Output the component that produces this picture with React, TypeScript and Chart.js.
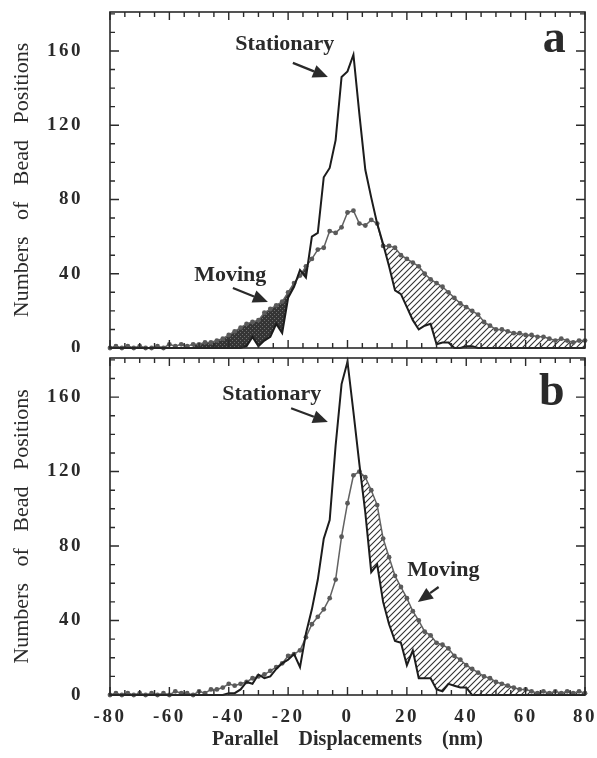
import React, { useEffect, useRef } from 'react';
import { Chart, registerables } from 'chart.js';

Chart.register(...registerables);

// ---- data ----
const X_NM = [
  -80, -78, -76, -74, -72, -70, -68, -66, -64, -62, -60, -58, -56, -54, -52, -50, -48, -46, -44, -42,
  -40, -38, -36, -34, -32, -30, -28, -26, -24, -22, -20, -18, -16, -14, -12, -10, -8, -6, -4, -2,
  0, 2, 4, 6, 8, 10, 12, 14, 16, 18, 20, 22, 24, 26, 28, 30, 32, 34, 36, 38,
  40, 42, 44, 46, 48, 50, 52, 54, 56, 58, 60, 62, 64, 66, 68, 70, 72, 74, 76, 78, 80,
];

const STATIONARY_A = [
  0, 0, 0, 0, 0, 0, 0, 0, 0, 0, 0, 0, 0, 0, 0, 0, 0, 0, 0, 0,
  0, 0, 0, 1, 6, 1, 4, 6, 13, 8, 27, 33, 42, 38, 60, 62, 92, 97, 112, 146,
  149, 158, 126, 96, 81, 67, 56, 44, 31, 29, 22, 15, 10, 12, 13, 2, 3, 3, 0, 0,
  1, 1, 0, 0, 0, 0, 0, 0, 0, 0, 0, 0, 0, 0, 0, 0, 0, 0, 0, 0, 0,
];

const MOVING_A = [
  0, 1, 0, 1, 0, 1, 0, 0, 1, 0, 2, 1, 2, 1, 2, 2, 3, 3, 4, 5,
  7, 9, 11, 13, 14, 15, 19, 21, 23, 25, 30, 35, 39, 44, 48, 53, 54, 63, 62, 65,
  73, 74, 67, 66, 69, 67, 55, 55, 54, 50, 48, 46, 44, 40, 37, 35, 33, 30, 27, 24,
  22, 20, 18, 14, 12, 10, 10, 9, 8, 8, 7, 7, 6, 6, 5, 4, 5, 4, 3, 4, 4,
];

const STATIONARY_B = [
  0, 0, 0, 0, 0, 0, 0, 0, 0, 0, 0, 0, 0, 0, 0, 0, 0, 0, 0, 0,
  1, 1, 3, 7, 6, 11, 9, 10, 14, 17, 19, 22, 15, 33, 46, 62, 84, 94, 134, 167,
  179, 152, 124, 98, 66, 70, 50, 38, 29, 28, 16, 24, 9, 9, 9, 3, 2, 6, 5, 4,
  4, 0, 0, 0, 0, 0, 0, 0, 0, 0, 0, 0, 0, 0, 0, 0, 0, 0, 0, 0, 0,
];

const MOVING_B = [
  0, 1, 0, 1, 0, 1, 0, 1, 0, 1, 0, 2, 1, 1, 0, 2, 1, 3, 3, 4,
  6, 5, 6, 7, 9, 10, 11, 13, 15, 17, 21, 22, 24, 31, 38, 42, 46, 52, 62, 85,
  103, 118, 120, 117, 110, 102, 84, 74, 64, 58, 52, 45, 40, 34, 32, 28, 27, 25, 21, 19,
  16, 14, 12, 10, 9, 7, 6, 5, 4, 3, 3, 2, 1, 2, 1, 2, 1, 2, 1, 2, 1,
];

const X_TICKS = [-80, -60, -40, -20, 0, 20, 40, 60, 80];
const Y_TICKS = [0, 40, 80, 120, 160];

// ---- styling ----
const FONT = "'Liberation Serif', 'Times New Roman', Times, serif";
const INK = '#2a2a2a';
const Y_MAX = 181;

type Note = { text: string; x: number; y: number; arrow?: [number, number, number, number] };
type Fill = { from: number; to: number; style: 'dark' | 'hatch' };

const NOTES_A: Note[] = [
  { text: 'Stationary', x: -21.1, y: 160.6, arrow: [-18.4, 153.6, -6.6, 146] },
  { text: 'Moving', x: -39.5, y: 36.1, arrow: [-38.6, 32.3, -26.8, 24.8] },
];
const NOTES_B: Note[] = [
  { text: 'Stationary', x: -25.5, y: 158.4, arrow: [-19, 154, -6.6, 146.6] },
  { text: 'Moving', x: 32.3, y: 63.9, arrow: [30.7, 58, 23.7, 50] },
];
const FILLS_A: Fill[] = [
  { from: -52, to: -4, style: 'dark' },
  { from: 0, to: 80, style: 'hatch' },
];
const FILLS_B: Fill[] = [{ from: 0, to: 80, style: 'hatch' }];

function makeHatch(ctx: CanvasRenderingContext2D) {
  const c = document.createElement('canvas');
  c.width = 6;
  c.height = 6;
  const g = c.getContext('2d')!;
  g.strokeStyle = '#333';
  g.lineWidth = 1.1;
  g.beginPath();
  g.moveTo(0, 6); g.lineTo(6, 0);
  g.moveTo(-3, 3); g.lineTo(3, -3);
  g.moveTo(3, 9); g.lineTo(9, 3);
  g.stroke();
  return ctx.createPattern(c, 'repeat')!;
}

function makeDark(ctx: CanvasRenderingContext2D) {
  const c = document.createElement('canvas');
  c.width = 4;
  c.height = 4;
  const g = c.getContext('2d')!;
  g.fillStyle = '#353535';
  g.fillRect(0, 0, 4, 4);
  g.fillStyle = '#707070';
  g.fillRect(0, 0, 1, 1);
  g.fillRect(2, 2, 1, 1);
  return ctx.createPattern(c, 'repeat')!;
}

function makeDecor(stationary: number[], moving: number[], fills: Fill[], notes: Note[], panel: { text: string; x: number; y: number }) {
  return {
    id: 'decor',
    beforeDatasetsDraw(chart: any) {
      const ctx: CanvasRenderingContext2D = chart.ctx;
      const area = chart.chartArea;
      const xs = chart.scales.x;
      const ys = chart.scales.y;
      const first = xs.getPixelForValue(X_NM[0]);
      const last = xs.getPixelForValue(X_NM[X_NM.length - 1]);
      for (const f of fills) {
        const x0 = xs.getPixelForValue(f.from);
        const x1 = xs.getPixelForValue(f.to);
        ctx.save();
        ctx.beginPath();
        ctx.rect(x0, area.top, x1 - x0, area.bottom - area.top);
        ctx.clip();
        ctx.beginPath();
        ctx.moveTo(first, ys.getPixelForValue(0));
        X_NM.forEach((x, i) => ctx.lineTo(xs.getPixelForValue(x), ys.getPixelForValue(moving[i])));
        ctx.lineTo(last, ys.getPixelForValue(0));
        ctx.closePath();
        ctx.clip();
        ctx.beginPath();
        ctx.moveTo(first, area.top);
        X_NM.forEach((x, i) => ctx.lineTo(xs.getPixelForValue(x), ys.getPixelForValue(stationary[i])));
        ctx.lineTo(last, area.top);
        ctx.closePath();
        ctx.fillStyle = f.style === 'hatch' ? makeHatch(ctx) : makeDark(ctx);
        ctx.fill();
        ctx.restore();
      }
    },
    afterDatasetsDraw(chart: any) {
      const ctx: CanvasRenderingContext2D = chart.ctx;
      const area = chart.chartArea;
      const xs = chart.scales.x;
      const ys = chart.scales.y;
      ctx.save();
      ctx.strokeStyle = INK;
      ctx.lineWidth = 1.6;
      ctx.strokeRect(area.left, area.top, area.right - area.left, area.bottom - area.top);
      ctx.lineWidth = 1.4;
      ctx.beginPath();
      for (let v = -80; v <= 80; v += 5) {
        const p = xs.getPixelForValue(v);
        const len = v % 20 === 0 ? 8 : 5;
        ctx.moveTo(p, area.bottom); ctx.lineTo(p, area.bottom - len);
        ctx.moveTo(p, area.top); ctx.lineTo(p, area.top + len);
      }
      for (let v = 0; v <= Y_MAX; v += 10) {
        const p = ys.getPixelForValue(v);
        const len = v % 40 === 0 ? 9 : 5;
        ctx.moveTo(area.left, p); ctx.lineTo(area.left + len, p);
        ctx.moveTo(area.right, p); ctx.lineTo(area.right - len, p);
      }
      ctx.stroke();

      // annotations
      ctx.fillStyle = INK;
      ctx.font = `bold 22px ${FONT}`;
      ctx.textAlign = 'center';
      ctx.textBaseline = 'alphabetic';
      for (const n of notes) {
        ctx.fillText(n.text, xs.getPixelForValue(n.x), ys.getPixelForValue(n.y));
        if (n.arrow) {
          const [ax, ay, bx, by] = n.arrow;
          const x0 = xs.getPixelForValue(ax), y0 = ys.getPixelForValue(ay);
          const x1 = xs.getPixelForValue(bx), y1 = ys.getPixelForValue(by);
          const ang = Math.atan2(y1 - y0, x1 - x0);
          const hl = 15, hw = 6.5;
          const bxp = x1 - hl * Math.cos(ang), byp = y1 - hl * Math.sin(ang);
          ctx.strokeStyle = INK;
          ctx.lineWidth = 2.2;
          ctx.beginPath();
          ctx.moveTo(x0, y0);
          ctx.lineTo(bxp, byp);
          ctx.stroke();
          ctx.beginPath();
          ctx.moveTo(x1, y1);
          ctx.lineTo(bxp + hw * Math.sin(ang), byp - hw * Math.cos(ang));
          ctx.lineTo(bxp - hw * Math.sin(ang), byp + hw * Math.cos(ang));
          ctx.closePath();
          ctx.fill();
        }
      }
      ctx.font = `bold 46px ${FONT}`;
      ctx.fillText(panel.text, xs.getPixelForValue(panel.x), ys.getPixelForValue(panel.y));
      ctx.restore();
      ctx.letterSpacing = '2.5px';
    },
    afterDraw(chart: any) {
      chart.ctx.letterSpacing = '0px';
    },
  };
}

function zeroPad(s: any) {
  s.paddingTop = 0;
  s.paddingBottom = 0;
  s.paddingLeft = 0;
  s.paddingRight = 0;
}

function buildConfig(stationary: number[], moving: number[], fills: Fill[], notes: Note[], panel: { text: string; x: number; y: number }, showX: boolean, padTop: number, padBottom: number) {
  return {
    type: 'line' as const,
    data: {
      datasets: [
        {
          label: 'Stationary',
          data: X_NM.map((x, i) => ({ x, y: stationary[i] })),
          borderColor: '#1c1c1c',
          borderWidth: 2,
          pointRadius: 0,
          fill: false,
          tension: 0,
          clip: 4,
        },
        {
          label: 'Moving',
          data: X_NM.map((x, i) => ({ x, y: moving[i] })),
          borderColor: '#626262',
          borderWidth: 1.5,
          pointRadius: 2.4,
          pointBackgroundColor: '#5a5a5a',
          pointBorderColor: '#5a5a5a',
          pointBorderWidth: 0,
          fill: false,
          tension: 0,
          clip: 5,
        },
      ],
    },
    options: {
      responsive: false,
      animation: false as const,
      devicePixelRatio: 1,
      layout: { padding: { top: padTop, right: 12, bottom: padBottom, left: 0 } },
      plugins: { legend: { display: false }, tooltip: { enabled: false } },
      scales: {
        x: showX
          ? {
              type: 'linear' as const,
              min: -80,
              max: 80,
              grid: { display: false },
              border: { display: false },
              afterBuildTicks: (s: any) => { s.ticks = X_TICKS.map((v) => ({ value: v })); },
              afterFit: (s: any) => { s.height = 63; zeroPad(s); },
              ticks: {
                autoSkip: false,
                maxRotation: 0,
                padding: 3,
                z: 1,
                color: INK,
                font: { family: FONT, size: 19, weight: 'bold' as const },
              },
              title: {
                display: true,
                text: 'Parallel    Displacements    (nm)',
                color: INK,
                font: { family: FONT, size: 20, weight: 'bold' as const },
                padding: { top: 0, bottom: 6 },
              },
            }
          : { type: 'linear' as const, min: -80, max: 80, display: false },
        y: {
          type: 'linear' as const,
          min: 0,
          max: Y_MAX,
          grid: { display: false },
          border: { display: false },
          afterBuildTicks: (s: any) => { s.ticks = Y_TICKS.map((v) => ({ value: v })); },
          afterFit: (s: any) => { s.width = 110; zeroPad(s); },
          ticks: {
            padding: 19,
            z: 1,
            color: INK,
            font: { family: FONT, size: 19, weight: 'bold' as const },
          },
          title: {
            display: true,
            text: 'Numbers   of   Bead   Positions',
            color: INK,
            font: { family: FONT, size: 22 },
            padding: { top: 9, bottom: 0 },
          },
        },
      },
    },
    plugins: [makeDecor(stationary, moving, fills, notes, panel)],
  };
}

export default function App() {
  const refA = useRef<HTMLCanvasElement>(null);
  const refB = useRef<HTMLCanvasElement>(null);

  useEffect(() => {
    const a = new Chart(refA.current!, buildConfig(STATIONARY_A, MOVING_A, FILLS_A, NOTES_A, { text: 'a', x: 69.6, y: 159.5 }, false, 12, 4) as any);
    const b = new Chart(refB.current!, buildConfig(STATIONARY_B, MOVING_B, FILLS_B, NOTES_B, { text: 'b', x: 68.8, y: 155.7 }, true, 6, 0) as any);
    return () => {
      a.destroy();
      b.destroy();
    };
  }, []);

  return (
    <div style={{ position: 'absolute', left: 0, top: 0, width: 597, height: 758, background: '#fff' }}>
      <canvas ref={refA} width={597} height={352} style={{ position: 'absolute', left: 0, top: 0, display: 'block' }} />
      <canvas ref={refB} width={597} height={406} style={{ position: 'absolute', left: 0, top: 352, display: 'block' }} />
    </div>
  );
}
